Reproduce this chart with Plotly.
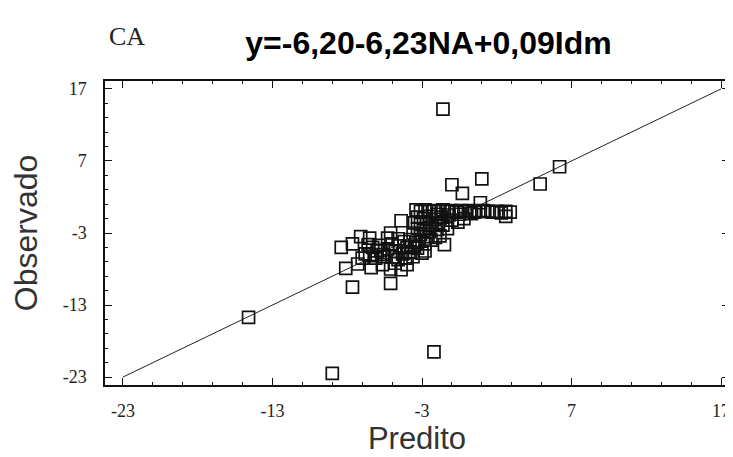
import plotly.graph_objects as go

predito = [
    -1.6, 1.0, -1.0, -0.3, 0.9, 4.9, 6.2, 2.6, 2.6, 2.9, 2.3,
    -14.6, -9.0, -2.2, -7.65, -5.1, -8.4, -8.1, -7.65, -7.1, -6.5,
    -7.3, -6.4, -5.65, -4.4, -5.1, -4.4, -5.1, -1.5, -3.0, -3.75,
    -5.3, -5.75, -6.1, -5.5, -3.9, -2.5, -2.1, -2.8,
    -3.4, -3.1, -2.8, -2.5, -2.2, -1.9, -1.6, -1.3, -1.0, -0.7, -0.4,
    -0.1, 0.2, 0.5, 0.8, 1.1, 1.4, 1.7, 2.0, -2.0, -1.2, -0.5, 0.3,
    -3.3, -2.9, -2.5, -2.1, -1.7, -3.5, -3.1, -2.7, -2.3, -1.9, -3.3,
    -2.9, -2.5, -2.0, -3.6, -3.1, -2.7, -1.6, -1.0, -0.6, -0.2, -1.3, -1.8,
    -4.6, -4.2, -3.8, -3.4, -5.0, -4.5, -4.0, -3.5, -5.3, -4.8, -4.3,
    -3.3, -5.0, -4.6, -4.1, -5.6, -6.0, -6.5, -5.9, -6.3, -4.8, -4.0,
    -3.6, -2.8, -2.4, -6.8, -7.0, -6.6,
]
observado = [
    14.2, 4.5, 3.7, 2.5, 1.2, 3.8, 6.2, 0.0, -0.7, -0.1, -0.2,
    -14.7, -22.5, -19.5, -10.5, -10.0, -5.0, -7.9, -4.5, -3.5, -3.7,
    -7.3, -7.8, -7.4, -8.1, -8.0, -1.3, -3.0, -4.6, -5.8, -5.7,
    -3.7, -5.4, -6.5, -6.3, -5.6, -2.8, -3.6, -5.5,
    0.2, 0.0, 0.2, 0.0, 0.1, 0.0, 0.2, 0.0, 0.1, -0.1, 0.1,
    0.0, 0.1, -0.1, 0.0, 0.1, 0.0, -0.1, 0.0, -0.4, -0.5, -0.4, -0.3,
    -0.8, -1.0, -0.7, -1.1, -0.8, -1.6, -1.8, -1.5, -1.9, -1.6, -2.4,
    -2.6, -2.2, -2.5, -3.0, -3.2, -3.5, -1.9, -1.2, -1.5, -1.0, -2.4, -3.4,
    -3.8, -4.2, -3.9, -4.3, -4.5, -4.8, -5.0, -4.9, -5.2, -5.6, -5.9,
    -5.1, -6.3, -6.7, -6.5, -6.0, -5.5, -6.0, -4.7, -5.0, -7.2, -7.4,
    -6.3, -4.5, -4.0, -5.9, -6.5, -4.6,
]

# 1:1 reference line endpoints
linha_x = [-23, 17]
linha_y = [-23, 17]

tick_vals = [-23, -13, -3, 7, 17]
tick_text = ["-23", "-13", "-3", "7", "17"]

titulo = "y=-6,20-6,23NA+0,09Idm"
rotulo = "CA"

fig = go.Figure()
fig.add_trace(go.Scatter(
    x=linha_x, y=linha_y, mode="lines",
    line=dict(color="#222222", width=1),
    hoverinfo="skip", showlegend=False,
))
fig.add_trace(go.Scatter(
    x=predito, y=observado, mode="markers",
    marker=dict(symbol="square-open", size=12, color="#111111",
                line=dict(width=1.7, color="#111111")),
    showlegend=False,
))

axis_common = dict(
    showgrid=False, zeroline=False,
    showline=True, linecolor="#111111", linewidth=1.5, mirror="ticks",
    ticks="inside", ticklen=7, tickwidth=1.2, tickcolor="#111111",
    tickvals=tick_vals, ticktext=tick_text,
    tickfont=dict(family="Liberation Serif", size=18, color="#222222"),
    minor=dict(ticks="inside", ticklen=3, tickwidth=1.2, tickcolor="#111111",
               tick0=-23, dtick=2),
)

fig.update_xaxes(
    range=[-24.2, 17.53], ticklabelstandoff=9, **axis_common,
    title=dict(text="Predito", font=dict(family="Liberation Sans", size=31, color="#333333"),
               standoff=6),
)
fig.update_yaxes(
    range=[-24.1, 18.1], ticklabelstandoff=13, **axis_common,
    title=dict(text="Observado", font=dict(family="Liberation Sans", size=32, color="#333333"),
               standoff=16),
)

fig.update_layout(
    width=725, height=449,
    margin=dict(l=97, r=2, t=73, b=72),
    paper_bgcolor="white", plot_bgcolor="white",
    title=dict(text="<b>" + titulo + "</b>", x=0.58, xanchor="center",
               y=1 - 35 / 449, yanchor="middle",
               font=dict(family="Liberation Sans", size=32, color="#000000")),
    annotations=[dict(
        text=rotulo, xref="paper", yref="paper",
        x=(119 - 97) / 626, y=(377 - 28) / 304,
        xanchor="center", yanchor="middle", showarrow=False,
        font=dict(family="Liberation Serif", size=26, color="#222222"),
    )],
)

fig.write_html("out.html")
